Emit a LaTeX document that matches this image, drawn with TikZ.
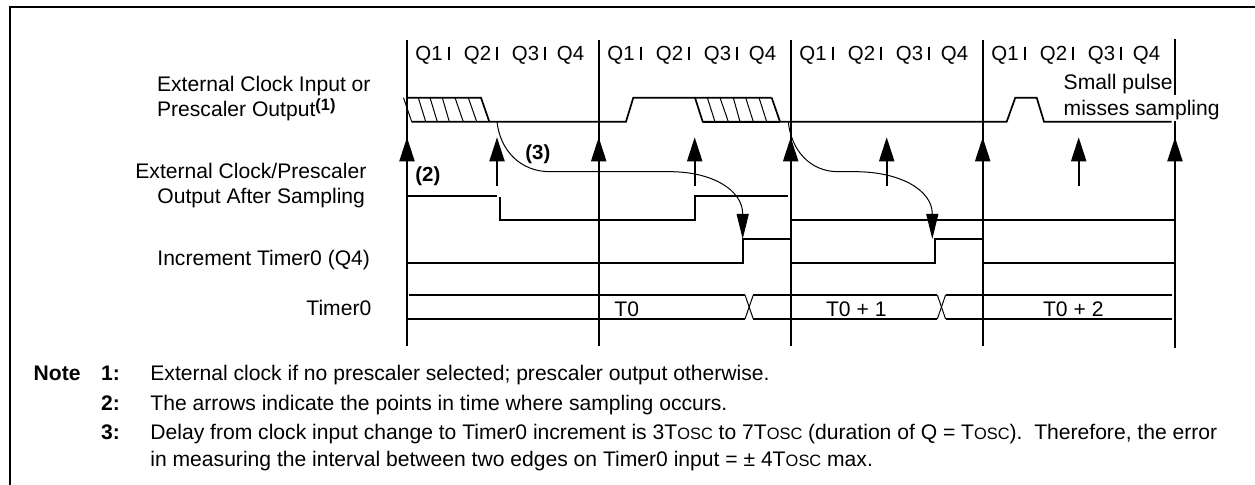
\documentclass[tikz,border=0pt]{standalone}
\usepackage{fontspec}
\setmainfont{Liberation Sans}
\usetikzlibrary{arrows.meta}
\newcommand{\tosc}{T{\fontsize{8.2}{10}\selectfont OSC}}

\tikzset{
  labeltext/.style={anchor=base west,inner sep=0pt,font=\fontsize{10.55}{12}\selectfont},
  qtext/.style={anchor=base west,inner sep=0pt,font=\fontsize{10.2}{12}\selectfont},
  notetext/.style={anchor=base west,inner sep=0pt,font=\fontsize{10.55}{12}\selectfont},
  notenum/.style={anchor=base west,inner sep=0pt,font=\fontsize{10.55}{12}\selectfont\bfseries},
  boldtext/.style={anchor=base west,inner sep=0pt,font=\fontsize{10.2}{12}\selectfont\bfseries},
  gridline/.style={line width=1pt},
  waveline/.style={line width=0.85pt},
  hatchline/.style={line width=0.5pt},
  samplearrow/.style={line width=1pt,-{Triangle[length=12pt,width=7.5pt]}},
  delaycurve/.style={line width=0.5pt,-{Triangle[length=12.5pt,width=6pt]}}
}

\begin{document}
\begin{tikzpicture}[x=0.5pt,y=-0.5pt]
\useasboundingbox (0,0) rectangle (1255,485);

% Frame
\draw[line width=1.1pt] (10,485) -- (10,7.3) -- (1255,7.3);

% Period lines
\foreach \x in {407,598.7,790.7,982.7} {
    \draw[gridline] (\x,40) -- (\x,345.7);
}
\draw[gridline] (1175,39) -- (1175,95);
\draw[gridline] (1175,121) -- (1175,348);

% Q labels
\foreach \x/\n in {0/a,192/b,384/c,576/d} {
    \node[qtext] (qone\n) at (415+\x,60.7) {Q1};
    \node[qtext] (qtwo\n) at (463.5+\x,60.7) {Q2};
    \node[qtext] (qthree\n) at (511.5+\x,60.7) {Q3};
    \node[qtext] (qfour\n) at (556.5+\x,60.7) {Q4};
    \draw[gridline] (449+\x,46.7) -- (449+\x,60);
    \draw[gridline] (496.7+\x,46.7) -- (496.7+\x,60);
    \draw[gridline] (545+\x,46.7) -- (545+\x,60);
}

% Signal names
\node[labeltext] (extclk) at (156.7,91.7) {External Clock Input or};
\node[labeltext] (presc) at (156.7,117) {Prescaler Output\raisebox{3pt}{\fontsize{8.2}{10}\selectfont\bfseries(1)}};
\node[labeltext] (extsmp) at (135,178.3) {External Clock/Prescaler};
\node[labeltext] (outsmp) at (157,204) {Output After Sampling};
\node[labeltext] (incr) at (157,265.7) {Increment Timer0 (Q4)};
\node[labeltext] (tmr) at (306,315.7) {Timer0};
\node[labeltext] (small) at (1063.3,90) {Small pulse};
\node[labeltext] (misses) at (1063.3,116) {misses sampling};

% External clock
\draw[waveline] (407,97.7) -- (481,97.7) -- (489.3,121.7);
\draw[waveline] (411.7,121.7) -- (626,121.7) -- (633.3,97.7) -- (771.7,97.7);
\draw[waveline] (695,97.7) -- (702.7,121.7) -- (1006.7,121.7) -- (1015.3,97.7) -- (1036.7,97.7) -- (1044,121.7) -- (1171.7,121.7);
\draw[waveline] (771.7,97.7) -- (780,121.7);
\foreach \a/\b in {403.5/411.7,418.3/425.7,430/437.3,442.3/449.3,455/463.3,468.3/476.7,
    707.3/715,720/728.3,733.3/740,745.7/753.3,759/766.7} {
    \draw[hatchline] (\a,97.7) -- (\b,121.7);
}
\draw[waveline] (702.7,121.7) -- (780,121.7);

% Sampling arrows
\foreach \x in {497,694.7,886.7,1078.7} {
    \draw[samplearrow] (\x,185.7) -- (\x,137.3);
}
\foreach \x in {407,598.7,790.7,982.7,1175} {
    \draw[samplearrow] (\x,185.7) -- (\x,137.3);
}

% After sampling
\draw[waveline] (407,195.7) -- (497,195.7);
\draw[waveline] (500,197) -- (500,220) -- (694.7,220) -- (694.7,195.7) -- (787.7,195.7);
\draw[waveline] (790.7,220) -- (1175,220);

% Increment
\draw[waveline] (407,262.7) -- (742.7,262.7) -- (742.7,239) -- (790,239);
\draw[waveline] (791.7,262.7) -- (935,262.7) -- (935,239) -- (982,239);
\draw[waveline] (984,262.7) -- (1175,262.7);

% Timer0
\draw[waveline] (409,295) -- (745,295);
\draw[waveline] (407,319) -- (745,319);
\draw[waveline] (753.3,295) -- (937.3,295);
\draw[waveline] (753.3,319) -- (937.3,319);
\draw[waveline] (945.7,295) -- (1171.7,295);
\draw[waveline] (945.7,319) -- (1171.7,319);
\foreach \x in {745,937.3} {
    \draw[hatchline] (\x,295) -- (\x+8.3,319);
    \draw[hatchline] (\x+8.3,295) -- (\x,319);
}
\node[labeltext] (tzero) at (614,316.7) {T0};
\node[labeltext] (tone) at (825.7,316.7) {T0 + 1};
\node[labeltext] (ttwo) at (1042.7,316.7) {T0 + 2};

% Delay curves
\draw[delaycurve] (497,121.7) .. controls (500,150) and (520,171.7) .. (550,171.7) -- (670,171.7)
    .. controls (712,171.7) and (742.7,190) .. (742.7,214) -- (742.7,239);
\draw[delaycurve] (788.3,121.7) .. controls (791,150) and (810,171.7) .. (838,171.7) -- (855,171.7)
    .. controls (900,171.7) and (932.3,190) .. (932.3,214) -- (932.3,239);
\node[boldtext] (mtwo) at (415,182) {(2)};
\node[boldtext] (mthree) at (525,160) {(3)};

% Notes
\node[notenum] (note) at (33.3,380.7) {Note};
\node[notenum] (nta) at (100.7,380.7) {1:};
\node[notenum] (ntb) at (100.7,410.7) {2:};
\node[notenum] (ntc) at (100.7,440) {3:};
\node[notetext] (txa) at (150,380.7) {External clock if no prescaler selected; prescaler output otherwise.};
\node[notetext] (txb) at (150,410.7) {The arrows indicate the points in time where sampling occurs.};
\node[notetext] (txc) at (150,440) {Delay from clock input change to Timer0 increment is 3\tosc{} to 7\tosc{} (duration of Q = \tosc).\ \ Therefore, the error};
\node[notetext] (txd) at (150,466.7) {in measuring the interval between two edges on Timer0 input = ± 4\tosc{} max.};
\end{tikzpicture}
\end{document}
